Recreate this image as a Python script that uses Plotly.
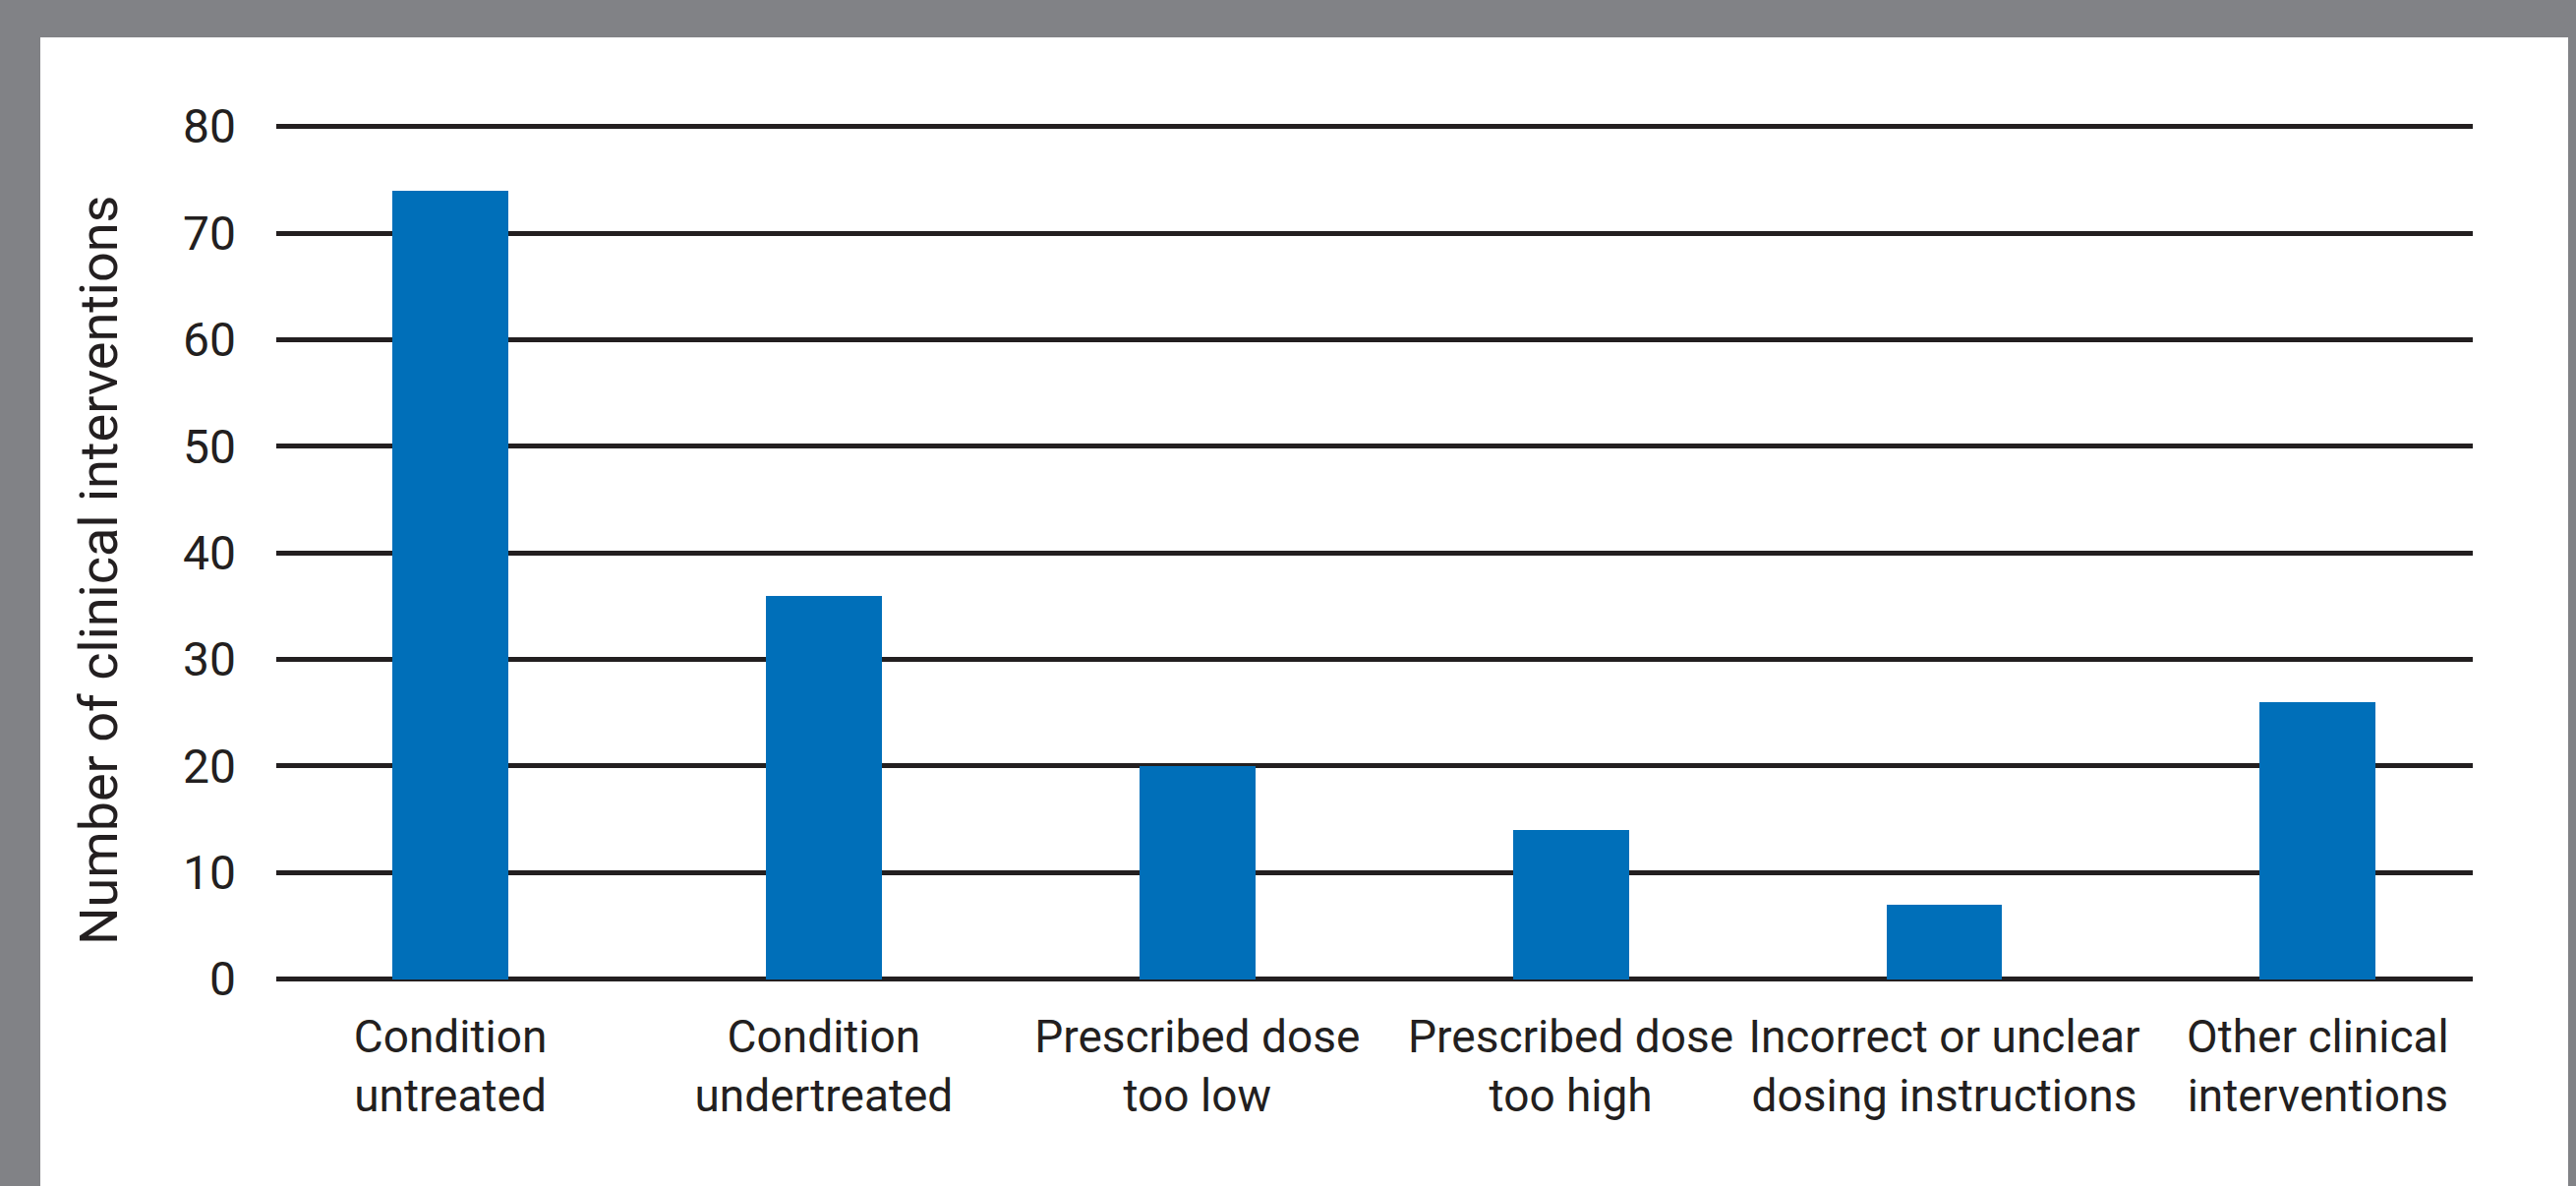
import plotly.graph_objects as go

# Clinical interventions by category
categories = [
    "Condition<br>untreated",
    "Condition<br>undertreated",
    "Prescribed dose<br>too low",
    "Prescribed dose<br>too high",
    "Incorrect or unclear<br>dosing instructions",
    "Other clinical<br>interventions",
]
interventions = [74, 36, 20, 14, 7, 26]
y_ticks = [0, 10, 20, 30, 40, 50, 60, 70, 80]
y_title = "Number of clinical interventions"

W, H = 2620, 1206
ML, MR, MT, MB = 281, 105, 107, 206
FONT = "Roboto"
INK = "#231f20"
FRAME = "#818286"
BAR = "#006fb9"

fig = go.Figure(
    go.Bar(
        x=categories,
        y=interventions,
        marker=dict(color=BAR, line=dict(width=0)),
        width=0.31,
        hoverinfo="skip",
    )
)

# white card inside the grey frame (paper coords can extend past the plot area)
pw = W - ML - MR
ph = H - MT - MB
def px_x(p):
    return (p - ML) / pw
def px_y(p):
    return (H - MB - p) / ph

fig.add_shape(
    type="rect", xref="paper", yref="paper", layer="below",
    x0=px_x(41), x1=px_x(2612), y0=px_y(H + 5), y1=px_y(38),
    fillcolor="white", line=dict(width=0),
)

fig.add_annotation(
    text=y_title, textangle=-90, showarrow=False,
    xref="paper", yref="paper", x=px_x(100), y=px_y(580),
    xanchor="center", yanchor="middle",
    font=dict(family=FONT, size=54, color=INK),
)

fig.update_layout(
    width=W, height=H,
    margin=dict(l=ML, r=MR, t=MT, b=MB, pad=0),
    paper_bgcolor=FRAME,
    plot_bgcolor="rgba(0,0,0,0)",
    showlegend=False,
    bargap=0,
    font=dict(family=FONT, color=INK),
)

fig.update_xaxes(
    type="category",
    range=[-0.466, 5.415],
    showgrid=False, zeroline=False, showline=False,
    ticks="", ticklabelstandoff=23,
    tickfont=dict(family=FONT, size=46, color=INK),
)

fig.update_yaxes(
    range=[-0.4, 82],
    tickvals=y_ticks,
    showgrid=True, gridcolor=INK, gridwidth=5,
    zeroline=True, zerolinecolor=INK, zerolinewidth=5,
    showline=False, ticks="",
    ticklabelstandoff=40,
    tickfont=dict(family=FONT, size=48, color=INK),
)

fig.write_html("out.html")
